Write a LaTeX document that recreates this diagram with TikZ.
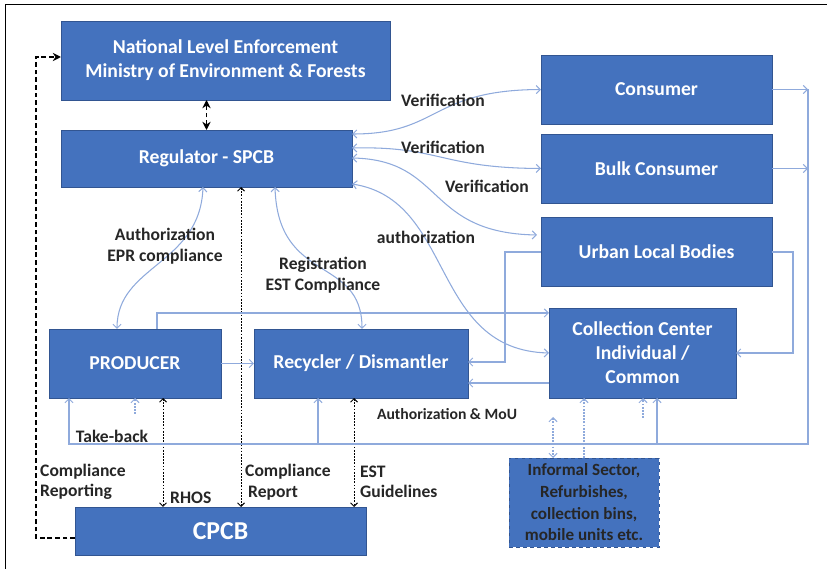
\documentclass[tikz,border=0pt]{standalone}
\usepackage{fontspec}
\setmainfont{Carlito}
\usetikzlibrary{arrows.meta,calc}
\definecolor{boxblue}{RGB}{68,114,190}
\definecolor{boxedge}{RGB}{50,85,145}
\definecolor{lineblue}{RGB}{143,170,220}

\begin{document}
\begin{tikzpicture}[x=0.03cm,y=-0.03cm,
		box/.style={draw=boxedge,line width=0.8pt,fill=boxblue,text=white,inner sep=0pt,outer sep=0pt,align=center,font=\fontsize{16.8}{20.5}\selectfont\bfseries},
		lbl/.style={font=\fontsize{15}{17.5}\selectfont\bfseries,text=black!85,inner sep=0pt},
		blu/.style={lineblue,line width=0.9pt,>={Straight Barb[length=3.5pt,width=7pt]}},
		bludot/.style={blu,dash pattern=on 1.5pt off 1.2pt},
		blkdash/.style={black,line width=1.5pt,dash pattern=on 4pt off 2.5pt,>={Stealth[length=7pt,width=7pt]}},
		blkdot/.style={black,line width=0.8pt,dash pattern=on 1.5pt off 1.2pt,>={Straight Barb[length=3pt,width=6pt]}}]
		\useasboundingbox (0,0) rectangle (827,569);
		\draw[line width=0.8pt] (827,4) -- (5,4) -- (5,569);
		%
		\node[box,minimum width=9.87cm,minimum height=2.37cm] (nat) at (225.5,60.5) {National Level Enforcement\\Ministry of Environment \& Forests};
		\node[box,minimum width=8.73cm,minimum height=1.71cm] (reg) at (206.5,158.5) {Regulator - SPCB};
		\node[box,minimum width=6.93cm,minimum height=2.07cm] (con) at (656.5,89.5) {Consumer};
		\node[box,minimum width=6.93cm,minimum height=2.07cm] (bulk) at (656.5,168.5) {Bulk Consumer};
		\node[box,minimum width=6.93cm,minimum height=2.07cm] (ulb) at (656.5,252) {Urban Local Bodies};
		\node[box,minimum width=5.61cm,minimum height=2.7cm] (cc) at (642.5,353) {Collection Center\\Individual /\\Common};
		\node[box,minimum width=5.16cm,minimum height=2.07cm] (prod) at (135,363.5) {PRODUCER};
		\node[box,minimum width=6.42cm,minimum height=2.07cm] (rec) at (361,363.5) {Recycler / Dismantler};
		\node[box,minimum width=8.73cm,minimum height=1.44cm,font=\fontsize{22}{24}\selectfont\bfseries] (cpcb) at (220.5,531) {CPCB};
		\node[box,dashed,text=black!85,minimum width=4.5cm,minimum height=2.67cm,font=\fontsize{14.6}{18.5}\selectfont\bfseries] (inf) at (584,502.5) {Informal Sector,\\Refurbishes,\\collection bins,\\mobile units etc.};
		%
		\coordinate (lc) at (36,57);
		\coordinate (rc) at (808,444);
		\coordinate (tb) at (135,414);
		\coordinate (cb) at (643,418);
		\coordinate (ib) at (553,417);
		%
		\draw[blkdash,<->] (reg.north) -- (reg.north |- nat.south);
		\draw[blkdash,->] ($(cpcb.west)+(0,7)$) -| (lc) -- (nat.west |- lc);
		\draw[blkdot,<->] (241,0 |- reg.south) -- (241,0 |- cpcb.north);
		\draw[blkdot,<->] (163,0 |- prod.south) -- (163,0 |- cpcb.north);
		\draw[blkdot,<->] (354,0 |- rec.south) -- (354,0 |- cpcb.north);
		%
		\draw[blu,<->] (203,0 |- reg.south) .. controls (200,265) and (117,265) .. (117,0 |- prod.north);
		\draw[blu,<->] (275,0 |- reg.south) .. controls (278,285) and (362,255) .. (362,0 |- rec.north);
		\draw[blu,<->] (reg.east |- 0,134) .. controls (440,134) and (430,90) .. (con.west);
		\draw[blu,<->] (reg.east |- 0,148) .. controls (440,146) and (440,168) .. (bulk.west);
		\draw[blu,<->] (reg.east |- 0,158) .. controls (445,160) and (425,233) .. ($(ulb.west |- 0,235)+(-4,0)$);
		\draw[blu,<->] (reg.east |- 0,184) .. controls (455,200) and (430,350) .. (cc.west);
		%
		\draw[blu,->] (157,0 |- prod.north) |- (cc.west |- 0,313);
		\draw[blu,->] (prod.east) -- (rec.west);
		\draw[blu,->] (cc.west |- 0,383) -- (rec.east |- 0,383);
		\draw[blu,->] (ulb.west) -| (505,362) -- (rec.east |- 0,362);
		\draw[blu,->] (ulb.east) -| (793,0 |- cc.east) -- (cc.east);
		\draw[blu,->] (con.east) -- (rc |- con.east);
		\draw[blu,->] (bulk.east) -- (rc |- bulk.east);
		\draw[blu,->] (rc |- con.east) -- (rc) -| (69,0 |- prod.south);
		\draw[blu,->] (318,0 |- rc) -- (318,0 |- rec.south);
		\draw[blu,->] (657,0 |- rc) -- (657,0 |- cc.south);
		%
		\draw[bludot,->] (tb) -- (tb |- prod.south);
		\draw[bludot,->] (cb) -- (cb |- cc.south);
		\draw[bludot,<->] (ib) -- (ib |- inf.north);
		\draw[bludot,->] (inf.north) -- (inf.north |- cc.south);
		%
		\node[lbl] (v1) at (443,100) {Verification};
		\node[lbl] (v2) at (443,147) {Verification};
		\node[lbl] (v3) at (487,186) {Verification};
		\node[lbl] (au) at (426,237) {authorization};
		\node[lbl,align=center] (epr) at (165,246) {Authorization\\EPR compliance};
		\node[lbl,align=center] (est) at (323,275) {Registration\\EST Compliance};
		\node[lbl,font=\fontsize{13.4}{16}\selectfont\bfseries] (mou) at (447,414) {Authorization \& MoU};
		\node[lbl] (tk) at (112,436) {Take-back};
		\node[lbl,align=left,anchor=west] (cr) at (40,482) {Compliance\\Reporting};
		\node[lbl,anchor=west] (rh) at (170,498) {RHOS};
		\node[lbl,align=left,anchor=west] (cp) at (245,482) {Compliance\\\,Report};
		\node[lbl,align=left,anchor=west] (eg) at (360,482) {EST\\Guidelines};
		%
\end{tikzpicture}
\end{document}
